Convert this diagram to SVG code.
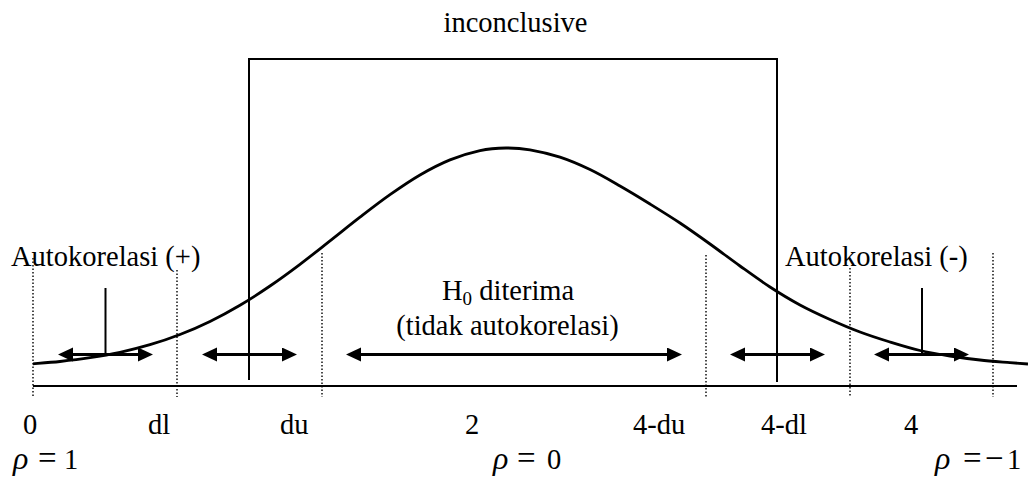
<svg xmlns="http://www.w3.org/2000/svg" width="1028" height="477" viewBox="0 0 1028 477">
<style>
text{font-family:"Liberation Serif","Times New Roman",serif;font-size:28.5px;fill:#000}
.it{font-style:italic;font-size:32px}
.op{font-size:33px}
.dot{stroke:#000;stroke-width:1.4;stroke-dasharray:1.5 2;fill:none}
.ln{stroke:#000;stroke-width:2;fill:none}
.arr{stroke:#000;stroke-width:3;fill:none;marker-start:url(#ah);marker-end:url(#ah)}
</style>
<defs>
<marker id="ah" markerUnits="userSpaceOnUse" markerWidth="16" markerHeight="16" refX="7" refY="7" orient="auto-start-reverse">
<path d="M0,0 L15,7 L0,14 z" fill="#000"/>
</marker>
</defs>
<rect width="1028" height="477" fill="#fff"/>
<g id="curve">
<path d="M33,363.8 C37.5,363.42 50.5,362.52 60,361.5 C69.5,360.48 80,359.23 90,357.7 C100,356.17 110,354.47 120,352.3 C130,350.13 140,347.67 150,344.7 C160,341.73 170,338.38 180,334.5 C190,330.62 200,326.28 210,321.4 C220,316.52 230,311.1 240,305.2 C250,299.3 260,292.82 270,286 C280,279.18 290,271.82 300,264.3 C310,256.78 320,248.75 330,240.9 C340,233.05 350,224.9 360,217.2 C370,209.5 380,201.73 390,194.7 C400,187.67 410,180.8 420,175 C430,169.2 440,163.97 450,159.9 C460,155.83 470.67,152.58 480,150.6 C489.33,148.62 497.67,148.13 506,148 C514.33,147.87 521,148.27 530,149.8 C539,151.33 550,153.9 560,157.2 C570,160.5 580,164.8 590,169.6 C600,174.4 610,180.27 620,186 C630,191.73 640,197.83 650,204 C660,210.17 670,216.33 680,223 C690,229.67 700,236.83 710,244 C720,251.17 730,258.83 740,266 C750,273.17 760,280.5 770,287 C780,293.5 790,299.58 800,305 C810,310.42 820,315 830,319.5 C840,324 850,328.25 860,332 C870,335.75 880,338.92 890,342 C900,345.08 910,348.17 920,350.5 C930,352.83 940,354.42 950,356 C960,357.58 970,358.9 980,360 C990,361.1 1002,361.93 1010,362.6 C1018,363.27 1025,363.77 1028,364" stroke="#000" stroke-width="2.8" fill="none"/>
</g>
<g id="axis">
<line class="ln" x1="33" y1="386" x2="1017" y2="386"/>
</g>
<g id="inconclusive-box">
<path class="ln" d="M249,380 V59 H777 V382"/>
<text x="515.5" y="32" text-anchor="middle">inconclusive</text>
</g>
<g id="dividers">
<line class="dot" x1="33" y1="258" x2="33" y2="397"/>
<line class="dot" x1="177" y1="270" x2="177" y2="397"/>
<line class="dot" x1="322" y1="253" x2="322" y2="397"/>
<line class="dot" x1="706" y1="255" x2="706" y2="397"/>
<line class="dot" x1="850" y1="268" x2="850" y2="397"/>
<line class="dot" x1="993" y1="253" x2="993" y2="397"/>
</g>
<g id="connectors">
<line class="ln" x1="105.5" y1="288" x2="105.5" y2="356"/>
<line class="ln" x1="922" y1="288" x2="922" y2="356"/>
<line class="arr" x1="66" y1="354.5" x2="145" y2="354.5"/>
<line class="arr" x1="210" y1="354.5" x2="289" y2="354.5"/>
<line class="arr" x1="354" y1="354.5" x2="674" y2="354.5"/>
<line class="arr" x1="738" y1="354.5" x2="817" y2="354.5"/>
<line class="arr" x1="882" y1="354.5" x2="961" y2="354.5"/>
</g>
<g id="label-pos">
<text x="11" y="266">Autokorelasi (+)</text>
</g>
<g id="label-neg">
<text x="785" y="266">Autokorelasi (-)</text>
</g>
<g id="label-h0">
<text x="442" y="300">H<tspan font-size="19" dy="5">0</tspan><tspan dy="-5"> diterima</tspan></text>
<text x="507.5" y="335" text-anchor="middle">(tidak autokorelasi)</text>
</g>
<g id="ticks">
<text x="23" y="434">0</text>
<text x="148" y="434">dl</text>
<text x="280" y="434">du</text>
<text x="465" y="434">2</text>
<text x="633" y="434">4-du</text>
<text x="761" y="434">4-dl</text>
<text x="904" y="434">4</text>
</g>
<g id="rho">
<text y="469" font-size="30"><tspan x="13" class="it">ρ</tspan><tspan x="38" class="op">=</tspan><tspan x="64">1</tspan></text>
<text y="469" font-size="30"><tspan x="493" class="it">ρ</tspan><tspan x="517" class="op">=</tspan><tspan x="547">0</tspan></text>
<text y="469" font-size="30"><tspan x="935" class="it">ρ</tspan><tspan x="963" class="op">=</tspan><tspan x="985" class="op">−</tspan><tspan x="1007">1</tspan></text>
</g>
</svg>
